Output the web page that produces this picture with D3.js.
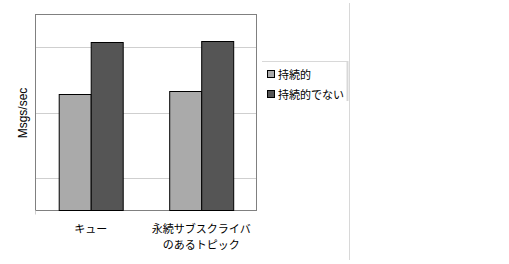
<!DOCTYPE html>
<html>
<head>
<meta charset="utf-8">
<script src="https://cdn.jsdelivr.net/npm/d3@7"></script>
<style>
  body { margin: 0; background: #fff; }
  text { font-family: "Liberation Sans", Arial, "Noto Sans CJK JP", sans-serif; fill: #000; }
</style>
</head>
<body>
<svg id="chart" width="509" height="264"></svg>
<script>
// categories (two-line labels) and series
const categories = ['キュー', '永続サブスクライバ\nのあるトピック'];
const seriesNames = ['持続的', '持続的でない'];
const seriesColors = ['#aaaaaa', '#555555'];
const persistent = [3.57, 3.67];
const nonPersistent = [5.16, 5.20];
const gridValues = [1, 3, 5];

const svg = d3.select('#chart');
const margin = {left: 35.5, top: 14.5, right: 256.5, bottom: 210.5};

const x = d3.scaleBand().domain(categories)
    .range([margin.left, margin.right])
    .paddingInner(0.42).paddingOuter(0.21);
const xs = d3.scaleBand().domain(seriesNames).range([0, x.bandwidth()]);
const y = d3.scaleLinear().domain([0, 6]).range([margin.bottom, margin.top]);

// gridlines
svg.append('g').selectAll('line').data(gridValues).join('line')
    .attr('x1', margin.left).attr('x2', margin.right)
    .attr('y1', d => Math.round(y(d)) + 0.5).attr('y2', d => Math.round(y(d)) + 0.5)
    .attr('stroke', '#cfcfcf');

// frame
svg.append('rect')
    .attr('x', margin.left).attr('y', margin.top)
    .attr('width', margin.right - margin.left).attr('height', margin.bottom - margin.top)
    .attr('fill', 'none').attr('stroke', '#808080');
svg.append('line').attr('x1', margin.left).attr('x2', margin.left)
    .attr('y1', margin.bottom).attr('y2', margin.bottom + 4).attr('stroke', '#d0d0d0');

// bars
const rows = categories.map((c, i) => ({cat: c, vals: [persistent[i], nonPersistent[i]]}));
const groups = svg.append('g').selectAll('g').data(rows).join('g')
    .attr('transform', d => `translate(${x(d.cat)},0)`);
groups.selectAll('rect')
    .data(d => d.vals.map((v, j) => ({name: seriesNames[j], v: v, color: seriesColors[j]})))
    .join('rect')
    .attr('x', d => Math.round(xs(d.name)) + 0.5)
    .attr('y', d => Math.round(y(d.v)) + 0.5)
    .attr('width', Math.round(xs.bandwidth()))
    .attr('height', d => margin.bottom - Math.round(y(d.v)) - 0.5)
    .attr('fill', d => d.color)
    .attr('stroke', '#000').attr('stroke-width', 1);

// x labels
const xAxis = svg.append('g');
categories.forEach(c => {
  const lines = c.split('\n');
  lines.forEach((ln, k) => {
    xAxis.append('text')
      .attr('x', x(c) + x.bandwidth() / 2)
      .attr('y', 233 + k * 16)
      .attr('text-anchor', 'middle')
      .attr('font-size', '11px')
      .text(ln);
  });
});

// y label
svg.append('text')
    .attr('transform', `translate(27,113) rotate(-90)`)
    .attr('text-anchor', 'middle')
    .attr('font-size', '12px')
    .text('Msgs/sec');

// legend
svg.append('line').attr('x1', 262).attr('x2', 347).attr('y1', 61.5).attr('y2', 61.5)
    .attr('stroke', '#d8d8d8');
svg.append('line').attr('x1', 347.5).attr('x2', 347.5).attr('y1', 61).attr('y2', 101)
    .attr('stroke', '#d8d8d8').attr('stroke-width', 2);
svg.append('line').attr('x1', 349.5).attr('x2', 349.5).attr('y1', 3).attr('y2', 260)
    .attr('stroke', '#d8d8d8');

const legend = svg.append('g').selectAll('g').data(seriesNames).join('g')
    .attr('transform', (d, i) => `translate(267,${70 + i * 20})`);
legend.append('rect')
    .attr('x', 0.5).attr('y', 0.5).attr('width', 7).attr('height', 7)
    .attr('fill', (d, i) => seriesColors[i]).attr('stroke', '#000');
legend.append('text')
    .attr('x', 11).attr('y', 8.5)
    .attr('font-size', '11px')
    .text(d => d);
</script>
</body>
</html>
